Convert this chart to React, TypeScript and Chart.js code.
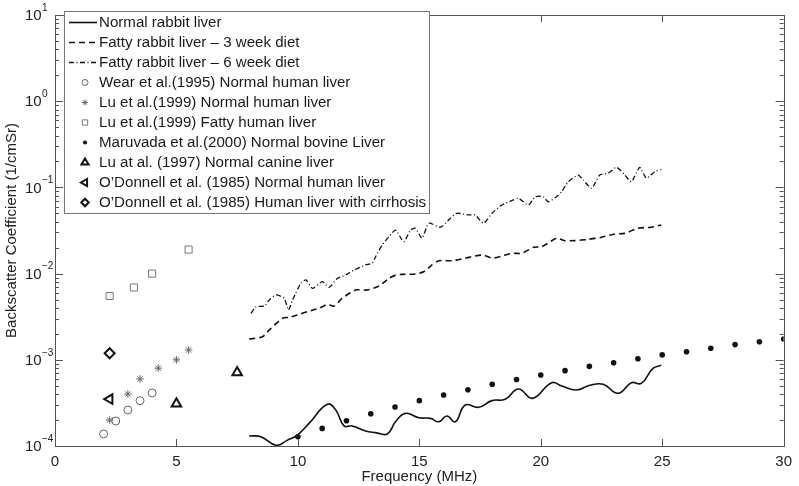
import React, { useEffect, useRef } from 'react';
import { Chart, registerables } from 'chart.js';
import { drawPoint } from 'chart.js/helpers';

Chart.register(...registerables);

// ---------- data ----------
const normalRabbitFreq = [8.0, 8.48, 9.1, 9.57, 9.98, 10.46, 11.21, 11.56, 11.9, 12.24, 12.79, 13.2, 13.68, 14.02, 14.43, 14.98, 15.46, 15.8, 16.14, 16.48, 16.89, 17.44, 17.99, 18.53, 19.08, 19.66, 20.45, 20.86, 21.47, 22.02, 22.57, 23.18, 23.73, 24.14, 24.62, 24.96];
const normalRabbitBsc = [1.31e-4, 1.28e-4, 1.02e-4, 1.17e-4, 1.34e-4, 1.83e-4, 3.05e-4, 2.62e-4, 1.71e-4, 1.71e-4, 1.49e-4, 1.43e-4, 1.38e-4, 1.91e-4, 2.39e-4, 2.13e-4, 2.09e-4, 1.91e-4, 2.23e-4, 1.91e-4, 2.99e-4, 2.81e-4, 3.36e-4, 3.48e-4, 4.58e-4, 3.57e-4, 5.42e-4, 4.96e-4, 4.46e-4, 5.06e-4, 5.2e-4, 4.08e-4, 5.42e-4, 5.33e-4, 7.96e-4, 8.63e-4];

const fatty3Freq = [8.0, 8.54, 8.89, 9.37, 9.64, 9.98, 10.39, 10.87, 11.21, 11.49, 11.83, 12.38, 12.86, 13.34, 13.75, 14.02, 14.29, 14.84, 15.18, 15.52, 15.8, 16.34, 16.89, 17.3, 17.64, 17.99, 18.4, 18.8, 19.22, 19.7, 20.04, 20.65, 21.0, 21.4, 21.95, 22.5, 23.05, 23.46, 24.0, 24.55, 24.96];
const fatty3Bsc = [1.74e-3, 1.85e-3, 2.32e-3, 3.03e-3, 3.11e-3, 3.31e-3, 3.62e-3, 3.96e-3, 4.4e-3, 4.2e-3, 5.2e-3, 6.45e-3, 6.45e-3, 7.18e-3, 8.8e-3, 9.6e-3, 9.8e-3, 9.9e-3, 1.05e-2, 1.26e-2, 1.41e-2, 1.41e-2, 1.51e-2, 1.6e-2, 1.64e-2, 1.51e-2, 1.6e-2, 1.72e-2, 1.72e-2, 2.02e-2, 2.05e-2, 2.57e-2, 2.41e-2, 2.41e-2, 2.5e-2, 2.64e-2, 2.88e-2, 2.93e-2, 3.36e-2, 3.45e-2, 3.66e-2];

const fatty6Freq = [8.07, 8.28, 8.62, 8.82, 9.1, 9.44, 9.61, 9.78, 10.12, 10.33, 10.6, 11.0, 11.28, 11.63, 11.97, 12.31, 12.79, 13.06, 13.2, 13.47, 13.75, 14.02, 14.36, 14.64, 14.84, 15.11, 15.39, 15.87, 16.28, 16.55, 17.03, 17.3, 17.64, 17.99, 18.4, 18.8, 19.08, 19.49, 19.77, 20.1, 20.31, 20.65, 20.86, 21.13, 21.54, 21.75, 22.09, 22.43, 22.77, 23.12, 23.46, 23.73, 24.07, 24.35, 24.69, 24.96];
const fatty6Bsc = [3.46e-3, 4.13e-3, 4.2e-3, 4.94e-3, 5.65e-3, 5.17e-3, 3.78e-3, 4.94e-3, 7.73e-3, 8.44e-3, 6.75e-3, 8.05e-3, 6.93e-3, 8.81e-3, 9.64e-3, 1.1e-2, 1.26e-2, 1.32e-2, 1.57e-2, 2.15e-2, 2.68e-2, 3.2e-2, 2.34e-2, 3.2e-2, 3.36e-2, 2.57e-2, 3.84e-2, 3.45e-2, 4.39e-2, 5.01e-2, 4.79e-2, 4.79e-2, 3.84e-2, 5.01e-2, 6.25e-2, 7.01e-2, 7.48e-2, 6.25e-2, 7.8e-2, 7.8e-2, 6.82e-2, 7.8e-2, 8.91e-2, 0.116, 0.139, 0.122, 9.77e-2, 0.139, 0.146, 0.171, 0.139, 0.116, 0.171, 0.128, 0.152, 0.162];

const wearFreq = [2, 2.5, 3, 3.5, 4];
const wearBsc = [1.38e-4, 1.95e-4, 2.62e-4, 3.36e-4, 4.12e-4];

const luNormalFreq = [2.25, 3, 3.5, 4.25, 5, 5.5];
const luNormalBsc = [2.0e-4, 4.0e-4, 6.0e-4, 8.0e-4, 1.0e-3, 1.3e-3];

const luFattyFreq = [2.25, 3.25, 4, 5.5];
const luFattyBsc = [5.5e-3, 6.9e-3, 1.0e-2, 1.9e-2];

const maruvadaFreq = [10, 11, 12, 13, 14, 15, 16, 17, 18, 19, 20, 21, 22, 23, 24, 25, 26, 27, 28, 29, 30];
const maruvadaBsc = [1.28e-4, 1.6e-4, 1.96e-4, 2.37e-4, 2.83e-4, 3.36e-4, 3.91e-4, 4.5e-4, 5.2e-4, 5.9e-4, 6.67e-4, 7.48e-4, 8.4e-4, 9.25e-4, 1.03e-3, 1.14e-3, 1.24e-3, 1.36e-3, 1.5e-3, 1.62e-3, 1.74e-3];

const luCanineFreq = [5, 7.5];
const luCanineBsc = [3.1e-4, 7.1e-4];

const odonnellNormalFreq = [2.25];
const odonnellNormalBsc = [3.5e-4];

const odonnellCirrhosisFreq = [2.25];
const odonnellCirrhosisBsc = [1.19e-3];

const legendLabels = [
  'Normal rabbit liver',
  'Fatty rabbit liver \u2013 3 week diet',
  'Fatty rabbit liver \u2013 6 week diet',
  'Wear et al.(1995) Normal human liver',
  'Lu et al.(1999) Normal human liver',
  'Lu et al.(1999) Fatty human liver',
  'Maruvada et al.(2000) Normal bovine Liver',
  'Lu at al. (1997) Normal canine liver',
  "O\u2019Donnell et al. (1985) Normal human liver",
  "O\u2019Donnell et al. (1985) Human liver with cirrhosis",
];

const xTicks = [0, 5, 10, 15, 20, 25, 30];
const yDecades = [-4, -3, -2, -1, 0, 1];

// ---------- helpers ----------
const FONT = '"Liberation Sans", Arial, Helvetica, sans-serif';
const pts = (xs: number[], ys: number[]) => xs.map((x, i) => ({ x, y: ys[i] }));

type MarkerStyle = {
  pointStyle: string;
  radius: number;
  rotation?: number;
  borderWidth: number;
  stroke: string;
  fill: string;
};

const lineStyles = [
  { dash: [] as number[], width: 1.6 },
  { dash: [6, 4], width: 1.6 },
  { dash: [5, 2.5, 1, 2.5], width: 1.3 },
];

const markerStyles: MarkerStyle[] = [
  { pointStyle: 'circle', radius: 4, borderWidth: 1, stroke: '#666', fill: 'rgba(0,0,0,0)' },
  { pointStyle: 'star', radius: 3.8, borderWidth: 1, stroke: '#666', fill: 'rgba(0,0,0,0)' },
  { pointStyle: 'rect', radius: 5, borderWidth: 1, stroke: '#777', fill: 'rgba(0,0,0,0)' },
  { pointStyle: 'circle', radius: 2.8, borderWidth: 0, stroke: '#111', fill: '#111' },
  { pointStyle: 'triangle', radius: 5.5, borderWidth: 2, stroke: '#111', fill: 'rgba(0,0,0,0)' },
  { pointStyle: 'triangle', radius: 5.5, rotation: -90, borderWidth: 2, stroke: '#111', fill: 'rgba(0,0,0,0)' },
  { pointStyle: 'rectRot', radius: 5, borderWidth: 2, stroke: '#111', fill: 'rgba(0,0,0,0)' },
];

const frameAndLegend = {
  id: 'frameAndLegend',
  afterDraw(chart: any) {
    const { ctx, chartArea: a, scales } = chart;
    const xs = scales.x;
    const ys = scales.y;
    ctx.save();
    ctx.setLineDash([]);
    // frame
    ctx.strokeStyle = '#555';
    ctx.lineWidth = 1;
    ctx.strokeRect(Math.round(a.left) + 0.5, Math.round(a.top) + 0.5, Math.round(a.right - a.left), Math.round(a.bottom - a.top));
    // y ticks
    ctx.beginPath();
    for (let k = -4; k <= 1; k++) {
      for (let m = 1; m <= 9; m++) {
        const v = m * Math.pow(10, k);
        if (v > 10.0001 || v < 0.99e-4) continue;
        const y = Math.round(ys.getPixelForValue(v)) + 0.5;
        const len = m === 1 ? 8 : 4;
        ctx.moveTo(a.left, y);
        ctx.lineTo(a.left + len, y);
        ctx.moveTo(a.right, y);
        ctx.lineTo(a.right - len, y);
      }
    }
    // x ticks
    xTicks.forEach((t) => {
      const x = Math.round(xs.getPixelForValue(t)) + 0.5;
      ctx.moveTo(x, a.bottom);
      ctx.lineTo(x, a.bottom - 7);
      ctx.moveTo(x, a.top);
      ctx.lineTo(x, a.top + 7);
    });
    ctx.stroke();

    // y tick labels 10^k
    ctx.fillStyle = '#222';
    ctx.textBaseline = 'middle';
    ctx.textAlign = 'left';
    yDecades.forEach((k) => {
      const y = ys.getPixelForValue(Math.pow(10, k));
      ctx.font = `15px ${FONT}`;
      ctx.fillText('10', 25, y + 1);
      ctx.font = `10px ${FONT}`;
      const exp = k < 0 ? '\u2212' + Math.abs(k) : String(k);
      ctx.fillText(exp, 42, y - 7);
    });

    // legend
    const bx = 64, by = 11, bw = 365, bh = 202;
    ctx.fillStyle = '#fff';
    ctx.fillRect(bx, by, bw, bh);
    ctx.strokeStyle = '#777';
    ctx.lineWidth = 1;
    ctx.strokeRect(bx + 0.5, by + 0.5, bw, bh);
    ctx.font = `15.1px ${FONT}`;
    ctx.textBaseline = 'middle';
    legendLabels.forEach((label, i) => {
      const y = 22.5 + 20 * i;
      if (i < 3) {
        const ls = lineStyles[i];
        ctx.save();
        ctx.strokeStyle = '#111';
        ctx.lineWidth = ls.width;
        ctx.setLineDash(ls.dash);
        ctx.beginPath();
        ctx.moveTo(69, y);
        ctx.lineTo(97, y);
        ctx.stroke();
        ctx.restore();
      } else {
        const ms = markerStyles[i - 3];
        ctx.save();
        ctx.setLineDash([]);
        ctx.strokeStyle = ms.stroke;
        ctx.fillStyle = ms.fill;
        ctx.lineWidth = ms.borderWidth;
        drawPoint(ctx, {
          pointStyle: ms.pointStyle,
          radius: ms.radius * 0.75,
          rotation: ms.rotation || 0,
          borderWidth: ms.borderWidth,
        } as any, 85, y);
        ctx.restore();
      }
      ctx.fillStyle = '#1a1a1a';
      ctx.fillText(label, 99, y + 0.5);
    });
    ctx.restore();
  },
};

function lineDs(label: string, xs: number[], ys: number[], idx: number) {
  const ls = lineStyles[idx];
  return {
    label,
    data: pts(xs, ys),
    showLine: true,
    borderColor: '#111',
    borderWidth: ls.width,
    borderDash: ls.dash,
    pointRadius: 0,
    tension: idx === 0 ? 0.45 : 0.2,
    fill: false,
  };
}

function markerDs(label: string, xs: number[], ys: number[], idx: number) {
  const ms = markerStyles[idx];
  return {
    label,
    data: pts(xs, ys),
    showLine: false,
    pointStyle: ms.pointStyle,
    pointRadius: ms.radius,
    pointRotation: ms.rotation || 0,
    pointBorderWidth: ms.borderWidth,
    pointBorderColor: ms.stroke,
    pointBackgroundColor: ms.fill,
    borderColor: ms.stroke,
    backgroundColor: ms.fill,
  };
}

export default function App() {
  const ref = useRef<HTMLCanvasElement | null>(null);

  useEffect(() => {
    document.body.style.margin = '0';
    const canvas = ref.current;
    if (!canvas) return;
    const chart = new Chart(canvas, {
      type: 'scatter',
      data: {
        datasets: [
          lineDs(legendLabels[0], normalRabbitFreq, normalRabbitBsc, 0),
          lineDs(legendLabels[1], fatty3Freq, fatty3Bsc, 1),
          lineDs(legendLabels[2], fatty6Freq, fatty6Bsc, 2),
          markerDs(legendLabels[3], wearFreq, wearBsc, 0),
          markerDs(legendLabels[4], luNormalFreq, luNormalBsc, 1),
          markerDs(legendLabels[5], luFattyFreq, luFattyBsc, 2),
          markerDs(legendLabels[6], maruvadaFreq, maruvadaBsc, 3),
          markerDs(legendLabels[7], luCanineFreq, luCanineBsc, 4),
          markerDs(legendLabels[8], odonnellNormalFreq, odonnellNormalBsc, 5),
          markerDs(legendLabels[9], odonnellCirrhosisFreq, odonnellCirrhosisBsc, 6),
        ] as any,
      },
      options: {
        responsive: false,
        animation: false,
        devicePixelRatio: 1,
        layout: { padding: { top: 15, right: 13, bottom: 0, left: 0 } },
        plugins: {
          legend: { display: false },
          tooltip: { enabled: false },
        },
        scales: {
          x: {
            type: 'linear',
            min: 0,
            max: 30,
            afterBuildTicks: (s: any) => {
              s.ticks = xTicks.map((v) => ({ value: v }));
            },
            ticks: {
              font: { size: 15, family: FONT },
              color: '#222',
              padding: 7,
              maxRotation: 0,
              callback: (v: any) => String(v),
            },
            grid: { display: false, drawTicks: false },
            border: { display: false },
            title: {
              display: true,
              text: 'Frequency (MHz)',
              font: { size: 15, family: FONT },
              color: '#222',
              padding: { top: 0, bottom: 0 },
            },
            afterFit: (s: any) => {
              s.height = 40;
            },
          },
          y: {
            type: 'logarithmic',
            min: 1e-4,
            max: 10,
            ticks: { display: false },
            grid: { display: false, drawTicks: false },
            border: { display: false },
            title: {
              display: true,
              text: 'Backscatter Coefficient (1/cmSr)',
              font: { size: 15, family: FONT },
              color: '#222',
              padding: { top: 3, bottom: 0 },
            },
            afterFit: (s: any) => {
              s.width = 55;
            },
          },
        },
      } as any,
      plugins: [frameAndLegend],
    });
    return () => chart.destroy();
  }, []);

  return (
    <div style={{ width: 799, height: 486 }}>
      <canvas ref={ref} width={799} height={486} style={{ display: 'block', width: 799, height: 486 }} />
    </div>
  );
}
